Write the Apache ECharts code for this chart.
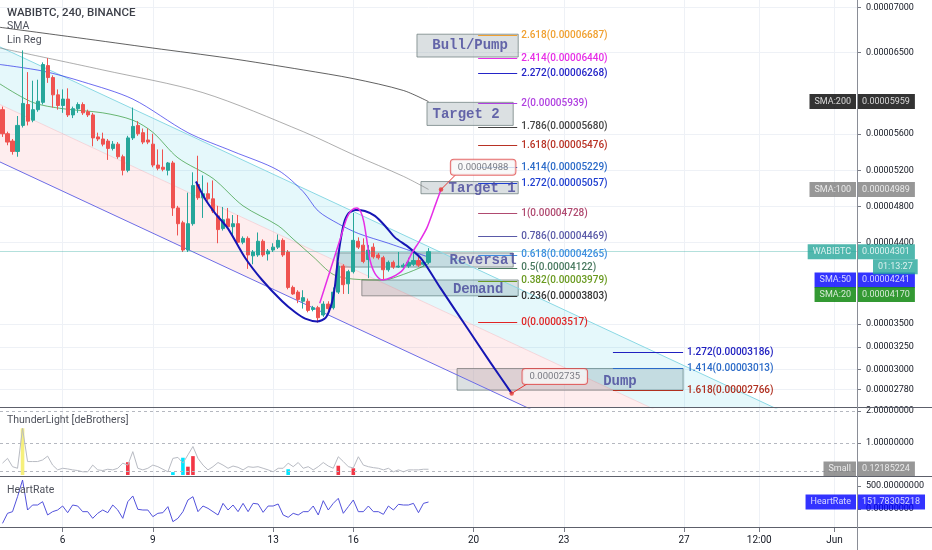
<!DOCTYPE html>
<html><head><meta charset="utf-8">
<script src="https://cdn.jsdelivr.net/npm/echarts@6/dist/echarts.min.js"></script>
<style>html,body{margin:0;padding:0;background:#fff}#c{width:932px;height:550px}</style>
</head><body><div id="c"></div>
<script>
// ---------- DATA (prices in satoshi, 1e-8 BTC) ----------
const ohlc = [ // [open, close, low, high], 4h candles
[5870,5604,5569,5904],[5604,5512,5477,5627],[5523,5408,5373,5546],[5408,5696,5350,5800],[5696,5939,5673,6525],
[5927,5743,5696,6285],[5754,5870,5731,6190],[5870,5963,5847,6201],[5951,6369,5927,6393],[6357,6225,6166,6440],
[6225,6034,5893,6249],[6034,5916,5870,6094],[5916,5987,5835,6094],[5987,5812,5789,6106],[5812,5881,5777,5904],
[5881,5927,5835,5951],[5927,5835,5812,5951],[5847,5812,5789,5870],[5812,5558,5465,5835],[5569,5546,5523,5616],
[5546,5489,5465,5616],[5523,5442,5315,5546],[5442,5489,5419,5523],[5489,5350,5327,5512],[5350,5200,5144,5373],
[5200,5558,5178,5581],[5558,5685,5535,5893],[5696,5604,5581,5743],[5616,5512,5489,5662],[5535,5512,5489,5662],
[5489,5258,5234,5604],[5258,5223,5200,5431],[5234,5211,5189,5431],[5200,5281,5144,5292],[5281,4784,4696,5304],
[4784,4610,4480,4807],[4620,4319,4297,4642],[4319,4610,4297,4953],[4610,5031,4588,5178],[5043,4897,4874,5361],
[4897,4941,4674,5144],[4941,4885,4863,5065],[4885,4750,4728,5088],[4696,4545,4394,4807],[4556,4653,4534,4795],
[4663,4577,4556,4784],[4577,4610,4480,4706],[4610,4405,4383,4706],[4405,4448,4383,4470],[4448,4265,4111,4470],
[4255,4297,4162,4319],[4265,4416,4244,4513],[4416,4265,4244,4437],[4276,4308,4203,4330],[4319,4351,4297,4394],
[4351,4426,4330,4491],[4426,4265,4244,4448],[4297,3906,3885,4319],[3906,3834,3824,3926],[3854,3773,3732,3875],
[3753,3793,3672,3875],[3753,3652,3631,3783],[3662,3682,3642,3702],[3682,3571,3517,3702],[3601,3722,3581,3753],
[3722,3672,3652,3753],[3682,3854,3662,3906],[3854,4142,3834,4183],[4142,3936,3834,4162],[3946,4080,3834,4101],
[4080,4426,4060,4728],[4416,4351,4330,4459],[4373,4193,4173,4448],[4214,4319,4008,4373],[4351,4244,4224,4394],
[4265,4234,4214,4287],[4234,4101,3988,4255],[4101,4183,4080,4203],[4183,4131,4111,4203],[4131,4142,4121,4297],
[4131,4152,4111,4173],[4142,4183,4121,4234],[4162,4203,4142,4297],[4203,4152,4131,4244],[4162,4183,4142,4203],
[4183,4301,4162,4340]
];
const slotCount = 171;                 // candle slots visible (incl. future)
const dayIdx = [12,30,54,70,94,112,136,151,166];
const dayLabels = ['6','9','13','16','20','23','27','12:00','Jun'];
const priceTicks = [7000,6500,5600,5200,4800,4400,3500,3250,3000,2780];

// moving averages, sampled [slot, price]
const sma200 = [[-0.5,6780],[15,6665],[30,6551],[45,6440],[60,6309],[70,6213],[80,6082],[85,5959]];
const sma100 = [[-0.5,6551],[20,6309],[40,6058],[60,5627],[70,5373],[80,5133],[85,4989]];
const sma50  = [[-0.5,6369],[8,6297],[16,6178],[26,5987],[37,5616],[46,5408],[55,5200],[60,4964],[63,4750],[67,4610],[71,4502],[77,4394],[85,4241]];
const sma20  = [[-0.5,6154],[6,5951],[12,5881],[20,5835],[26,5754],[30,5620],[35,5338],[42,5110],[48,4807],[55,4588],[58,4440],[62,4244],[66,4049],[70,3998],[76,3988],[80,4050],[84,4140],[85,4170]];

// linear regression channel end points [slot, price]
const regUpper  = [[-0.5,6563],[170.5,2151]];
const regMiddle = [[-0.5,5927],[170.5,1515]];
const regLower  = [[-0.5,5292],[170.5,880]];

// fibonacci extension levels
const fibRatios = ['3','2.618','2.414','2.272','2','1.786','1.618','1.414','1.272','1','0.786','0.618','0.5','0.382','0.236','0'];
const fibPrices = [7150,6687,6440,6268,5939,5680,5476,5229,5057,4728,4469,4265,4122,3979,3803,3517];
const fibSpan = [94.9,102.7];
const fib2Ratios = ['1.272','1.414','1.618'];
const fib2Prices = [3186,3013,2766];
const fib2Span = [121.8,135.8];

// rectangles
const boxNames  = ['Bull/Pump','Target 2','Target 1','Reversal','Demand','Dump'];
const boxLeft   = [82.7,84.7,83.5,66.7,71.7,90.7];
const boxRight  = [102.9,101.9,102.9,101.9,102.9,135.8];
const boxTop    = [6704,5951,5076,4287,3988,3010];
const boxBottom = [6452,5696,4941,4131,3813,2771];
const boxTextAt = [[93.3,6576],[92.5,5812],[95.7,4998],[95.9,4203],[94.9,3885],[123.2,2872]];

// hand drawn paths
const bluePath = [[38.6,5076],[40.4,4885],[42.4,4728],[45,4556],[48.4,4234],[51.8,3988],[55.8,3753],[58.4,3631],[60.4,3561],[62.8,3530],[64.5,3571],[65.7,3732],[66.3,3906],[66.7,4111],[67.3,4373],[68.1,4610],[69.1,4728],[70.5,4762],[72.3,4750],[74.3,4696],[76.3,4588],[78.3,4459],[81,4351],[83.7,4214],[87.3,3906],[92.7,3460],[97.3,3080],[101.6,2735]];
const magentaPath = [[63.3,3732],[65.3,4080],[67.3,4426],[68.7,4674],[69.7,4762],[70.7,4784],[71.5,4739],[72.1,4631],[72.7,4426],[73.3,4214],[74.3,4060],[75.7,3988],[77.7,4018],[79.9,4101],[81.7,4287],[83.3,4426],[84.7,4567],[86.3,4807],[87.5,4988]];

// price callouts
const calloutPrice = [4988,2735];
const calloutDot   = [[87.5,4988],[101.6,2735]];
const calloutBox   = [[95.9,5234],[110.2,2922]];
const calloutTip   = [[90.3,5144],[104.8,2844]];

// right axis tags
const mainTagNames  = ['SMA:200','SMA:100','WABIBTC','SMA:50','SMA:20'];
const mainTagValues = [5959,4989,4301,4241,4170];
const lastPrice = 4301;
const countdown = '01:13:27';

// ThunderLight
const tlLine = [0.37,0.52,0.26,0.21,1.46,0.42,0.42,0.42,0.47,0.59,
0.31,0.16,0.21,0.19,0.16,0.14,0.10,0.10,0.31,0.16,
0.14,0.18,0.16,0.21,0.37,0.31,0.73,0.21,0.16,0.21,
0.31,0.26,0.18,0.10,0.52,0.55,0.37,0.63,0.89,0.52,
0.31,0.16,0.26,0.39,0.31,0.21,0.28,0.24,0.16,0.26,
0.24,0.26,0.21,0.16,0.10,0.21,0.21,0.37,0.26,0.39,
0.21,0.26,0.16,0.26,0.39,0.28,0.21,0.57,0.42,0.26,
0.22,0.57,0.31,0.26,0.23,0.21,0.16,0.21,0.10,0.16,
0.10,0.16,0.16,0.16,0.18,0.18];
const tlBarIdx = [4,25,34,36,37,38,57,67,70];
const tlBarVal = [1.46,0.40,0.09,0.54,0.26,0.59,0.18,0.29,0.21];
const tlBarKind = ['y','r','c','c','r','r','c','r','r'];
const tlLevels = [2,1,0.12185224];
const tlTicks = [2,1];
const tlSmall = 0.12185224;

// HeartRate
const heartRate = [-312,-94,-58,268,630,-22,87,87,159,-130,
-58,-22,65,-80,87,65,-58,-58,-203,-94,
-22,-80,87,-22,-203,159,283,-7,-22,-22,
-167,-94,-80,51,-275,-203,-58,196,268,-58,
65,14,-58,-130,123,-22,87,-58,123,-58,
123,109,-72,65,65,109,-130,-181,-94,-130,
-58,-58,65,-130,181,-22,123,232,-94,51,
196,-58,-58,65,-58,-58,-116,65,-22,101,
87,87,123,-80,123,151.78305218];
const hrTicks = [500,0];
const hrLast = 151.78305218;

// ---------- CHART ----------
const FONT = 'Roboto, "Noto Sans", sans-serif';
const fmt8 = v => (v / 1e8).toFixed(8);
const cats = Array.from({length: slotCount}, (_, i) => 'c' + i);
const RIGHT = slotCount - 0.5;

const fibColors = ['#e040fb','#f0a030','#e62ee6','#2424c8','#b040e0','#444444','#b83224','#2a6ac8','#1f3fd0','#b04a70','#5a5aa8','#3f8fe0','#4a7a60','#6a9a20','#333333','#e02424'];
const fib2Colors = ['#2020c0','#2a6ac8','#b03020'];

function fibLines(ratios, prices, span, colors) {
  return ratios.map((r, i) => [
    {coord: [span[0], prices[i]], lineStyle: {color: colors[i], width: 1, type: 'solid'},
     label: {show: true, position: 'end', distance: 4, formatter: r + '(' + fmt8(prices[i]) + ')',
             color: colors[i], fontSize: 10, fontWeight: 500, fontFamily: FONT}},
    {coord: [span[1], prices[i]]}
  ]);
}

function tagItems(names, values, texts, colors, offs) {
  const out = [];
  names.forEach((n, i) => {
    const base = {show: true, color: '#fff', backgroundColor: colors[i], fontSize: 9, fontFamily: FONT,
                  padding: [2, 5, 2, 5], lineHeight: 11, offset: [0, offs[i]]};
    if (n) out.push({value: [RIGHT, values[i]], label: Object.assign({}, base, {position: 'left', distance: 1, formatter: n})});
    out.push({value: [RIGHT, values[i]], label: Object.assign({}, base, {position: 'right', distance: 0, formatter: texts[i]})});
  });
  return out;
}
function tagSeries(xi, yi, items) {
  return {type: 'scatter', xAxisIndex: xi, yAxisIndex: yi, symbolSize: 0, clip: false, silent: true, z: 20, data: items};
}

const tlColorMap = {y: 'rgba(245,238,110,0.9)', r: '#f23645', c: '#00e5ff'};
const tlBars = tlLine.map(() => null);
tlBarIdx.forEach((k, i) => { tlBars[k] = {value: tlBarVal[i], itemStyle: {color: tlColorMap[tlBarKind[i]]}}; });

// channel bands: [upper edge, lower edge, fill]
const bands = [
  [regUpper, regMiddle, 'rgba(0,188,212,0.10)'],
  [regMiddle, regLower, 'rgba(242,54,69,0.09)']
];

const valX = (g, extra) => Object.assign({
  type: 'value', gridIndex: g, min: -0.5, max: RIGHT, position: 'bottom',
  axisLine: {show: false, onZero: false},
  axisTick: {show: false, customValues: dayIdx},
  axisLabel: {show: false},
  splitLine: {show: true, lineStyle: {color: '#eef1f6', width: 1}}
}, extra || {});

const titleStyle = {fontSize: 10.5, fontWeight: 'normal', color: '#4f525c', fontFamily: FONT};
const plainLine = (name, data, color, z, extra) => Object.assign({type: 'line', name, xAxisIndex: 1, yAxisIndex: 0, data,
  symbol: 'none', silent: true, z, lineStyle: {color, width: 1}}, extra || {});

const option = {
  animation: false,
  backgroundColor: '#ffffff',
  title: [
    {text: 'WABIBTC, 240, BINANCE', left: 7, top: 7, padding: 0, textStyle: {fontSize: 11.5, fontWeight: 500, color: '#3c3f48', fontFamily: FONT}},
    {text: 'SMA', left: 7, top: 21, padding: 0, textStyle: titleStyle},
    {text: 'Lin Reg', left: 7, top: 35, padding: 0, textStyle: titleStyle},
    {text: 'ThunderLight [deBrothers]', left: 7, top: 415, padding: 0, textStyle: titleStyle},
    {text: 'HeartRate', left: 7, top: 485, padding: 0, textStyle: titleStyle}
  ],
  grid: [
    {left: 0, top: 0, width: 857, height: 408, outerBoundsMode: 'none'},
    {left: 0, top: 408, width: 857, height: 69, outerBoundsMode: 'none'},
    {left: 0, top: 477, width: 857, height: 51, outerBoundsMode: 'none'}
  ],
  xAxis: [
    {type: 'category', gridIndex: 0, data: cats, show: false, axisLine: {onZero: false}},
    valX(0),
    {type: 'category', gridIndex: 1, data: cats, show: false, axisLine: {onZero: false}},
    valX(1),
    {type: 'category', gridIndex: 2, data: cats, show: false, axisLine: {onZero: false}},
    valX(2, {
      axisTick: {show: true, customValues: dayIdx, length: 4, lineStyle: {color: '#787b86'}},
      axisLabel: {show: true, customValues: dayIdx, margin: 7, color: '#131722', fontSize: 10, fontFamily: FONT,
                  formatter: v => dayLabels[dayIdx.indexOf(Math.round(v))] || ''}
    })
  ],
  yAxis: [
    {type: 'value', gridIndex: 0, position: 'right', min: 2573.5, max: 7081.9,
     axisLine: {show: false, onZero: false},
     axisTick: {show: true, customValues: priceTicks, length: 4, lineStyle: {color: '#787b86'}},
     axisLabel: {customValues: priceTicks, formatter: fmt8, color: '#131722', fontSize: 9, fontFamily: FONT, margin: 9},
     splitLine: {show: true, lineStyle: {color: '#eef1f6'}}},
    {type: 'value', gridIndex: 1, position: 'right', min: -0.0625, max: 2.094,
     axisLine: {show: false, onZero: false},
     axisTick: {show: true, customValues: tlTicks, length: 4, lineStyle: {color: '#787b86'}},
     axisLabel: {customValues: tlTicks, formatter: v => v.toFixed(8), color: '#131722', fontSize: 9, fontFamily: FONT, margin: 9},
     splitLine: {show: false}},
    {type: 'value', gridIndex: 2, position: 'right', min: -413, max: 695.7,
     axisLine: {show: false, onZero: false},
     axisTick: {show: true, customValues: hrTicks, length: 4, lineStyle: {color: '#787b86'}},
     axisLabel: {customValues: hrTicks, formatter: v => v.toFixed(8), color: '#131722', fontSize: 9, fontFamily: FONT, margin: 9},
     splitLine: {show: false}}
  ],
  graphic: [
    {type: 'line', silent: true, z: 100, shape: {x1: 0, y1: 407.5, x2: 932, y2: 407.5}, style: {stroke: '#5d606b', lineWidth: 1}},
    {type: 'line', silent: true, z: 100, shape: {x1: 0, y1: 476.5, x2: 932, y2: 476.5}, style: {stroke: '#5d606b', lineWidth: 1}},
    {type: 'line', silent: true, z: 100, shape: {x1: 0, y1: 527.5, x2: 932, y2: 527.5}, style: {stroke: '#5d606b', lineWidth: 1}},
    {type: 'line', silent: true, z: 100, shape: {x1: 857.5, y1: 0, x2: 857.5, y2: 550}, style: {stroke: '#8a8d96', lineWidth: 1}}
  ],
  series: [
    // regression channel fills
    {type: 'custom', name: 'regFill', xAxisIndex: 1, yAxisIndex: 0, silent: true, z: 1, clip: true,
     data: bands.map((b, i) => [i]),
     renderItem: (params, api) => {
       const b = bands[params.dataIndex];
       const pts = [api.coord(b[0][0]), api.coord(b[0][1]), api.coord(b[1][1]), api.coord(b[1][0])];
       return {type: 'polygon', shape: {points: pts}, style: {fill: b[2]}};
     }},
    plainLine('regLower', regLower, '#6c6ce6', 1),
    plainLine('regMiddle', regMiddle, 'rgba(242,120,130,0.22)', 1),
    plainLine('regUpper', regUpper, '#8ad8e4', 1),
    // moving averages
    plainLine('SMA200', sma200, 'rgba(0,0,0,0.62)', 2, {smooth: 0.3}),
    plainLine('SMA100', sma100, 'rgba(120,120,120,0.6)', 2, {smooth: 0.3}),
    plainLine('SMA50', sma50, 'rgba(20,20,230,0.62)', 2, {smooth: 0.3}),
    plainLine('SMA20', sma20, 'rgba(0,128,0,0.55)', 2, {smooth: 0.3}),
    // candles
    {type: 'candlestick', name: 'WABIBTC', xAxisIndex: 0, yAxisIndex: 0, data: ohlc, barWidth: 3.6, silent: true, z: 3,
     itemStyle: {color: '#26a69a', color0: '#ef5350', borderColor: '#26a69a', borderColor0: '#ef5350', borderWidth: 1},
     markLine: {symbol: ['none', 'none'], silent: true, label: {show: false},
                lineStyle: {color: 'rgba(38,166,154,0.35)', type: 'solid', width: 1}, data: [{yAxis: lastPrice}]}},
    // boxes
    {type: 'line', name: 'boxes', xAxisIndex: 1, yAxisIndex: 0, data: [], silent: true, z: 4,
     markArea: {silent: true,
       itemStyle: {color: 'rgba(170,180,186,0.42)', borderColor: 'rgba(110,125,125,0.75)', borderWidth: 1},
       data: boxNames.map((n, i) => [{coord: [boxLeft[i], boxTop[i]]}, {coord: [boxRight[i], boxBottom[i]]}])}},
    // fibonacci
    {type: 'line', name: 'fib', xAxisIndex: 1, yAxisIndex: 0, data: [], silent: true, z: 5,
     markLine: {symbol: ['none', 'none'], silent: true,
       data: fibLines(fibRatios, fibPrices, fibSpan, fibColors).concat(fibLines(fib2Ratios, fib2Prices, fib2Span, fib2Colors))}},
    // box texts
    {type: 'scatter', name: 'boxText', xAxisIndex: 1, yAxisIndex: 0, symbolSize: 0, silent: true, z: 6, clip: false,
     data: boxTextAt.map((p, i) => ({value: p, label: {formatter: boxNames[i]}})),
     label: {show: true, position: 'inside', color: '#45459a', fontSize: 14, fontWeight: 'bold',
             fontFamily: '"Courier New", "Liberation Mono", monospace'}},
    // drawn paths
    plainLine('bluePath', bluePath, '#1616b4', 7, {smooth: 0.25, lineStyle: {color: '#1616b4', width: 2}}),
    plainLine('magentaPath', magentaPath, '#e62ee6', 7, {smooth: 0.25, lineStyle: {color: '#e62ee6', width: 1.5}}),
    // callouts
    ...calloutPrice.map((p, i) => plainLine('calloutPointer' + i, [calloutDot[i], calloutTip[i]], '#e53935', 8)),
    {type: 'scatter', name: 'calloutDots', xAxisIndex: 1, yAxisIndex: 0, data: calloutDot, symbolSize: 4.5, silent: true, z: 9, clip: false,
     itemStyle: {color: '#e53935'}},
    {type: 'scatter', name: 'calloutBoxes', xAxisIndex: 1, yAxisIndex: 0, symbolSize: 0, silent: true, z: 9, clip: false,
     data: calloutBox.map((b, i) => ({value: b, label: {formatter: fmt8(calloutPrice[i])}})),
     label: {show: true, position: 'inside', color: '#5a5d66', fontSize: 9.5, fontFamily: FONT,
             backgroundColor: '#f7f7f7', borderColor: '#e04848', borderWidth: 1, borderRadius: 3, padding: [3, 7, 2, 7]}},
    // right axis tags (main)
    tagSeries(1, 0, tagItems(mainTagNames, mainTagValues, mainTagValues.map(fmt8),
      ['#000000', '#7d7d7d', '#26a69a', '#0000ff', '#008000'], [0, 0, 0, 23, 31])),
    tagSeries(1, 0, [{value: [RIGHT, lastPrice], label: {show: true, position: 'right', distance: 0, offset: [16, 15],
      formatter: countdown, color: '#fff', backgroundColor: '#26a69a', fontSize: 9, fontFamily: FONT, padding: [2, 5, 2, 5], lineHeight: 11}}]),
    // ThunderLight
    {type: 'bar', name: 'tlBars', xAxisIndex: 2, yAxisIndex: 1, data: tlBars, barWidth: 3.6, silent: true, z: 2},
    {type: 'line', name: 'ThunderLight', xAxisIndex: 2, yAxisIndex: 1, data: tlLine, symbol: 'none', silent: true, z: 3,
     lineStyle: {color: '#b8bbc3', width: 1},
     markLine: {symbol: ['none', 'none'], silent: true, label: {show: false},
                lineStyle: {color: '#b5b8c0', type: [3, 3], width: 1}, data: tlLevels.map(v => ({yAxis: v}))}},
    tagSeries(3, 1, tagItems(['Small'], [tlSmall], [tlSmall.toFixed(8)], ['#7d7d7d'], [-2])),
    // HeartRate
    {type: 'line', name: 'HeartRate', xAxisIndex: 4, yAxisIndex: 2, data: heartRate, symbol: 'none', silent: true, z: 3,
     lineStyle: {color: '#5252dc', width: 1}},
    tagSeries(5, 2, tagItems(['HeartRate'], [hrLast], [hrLast.toFixed(8)], ['#0000ff'], [0]))
  ]
};

const chart = echarts.init(document.getElementById('c'), null, {renderer: 'canvas', width: 932, height: 550});
chart.setOption(option);
</script></body></html>
